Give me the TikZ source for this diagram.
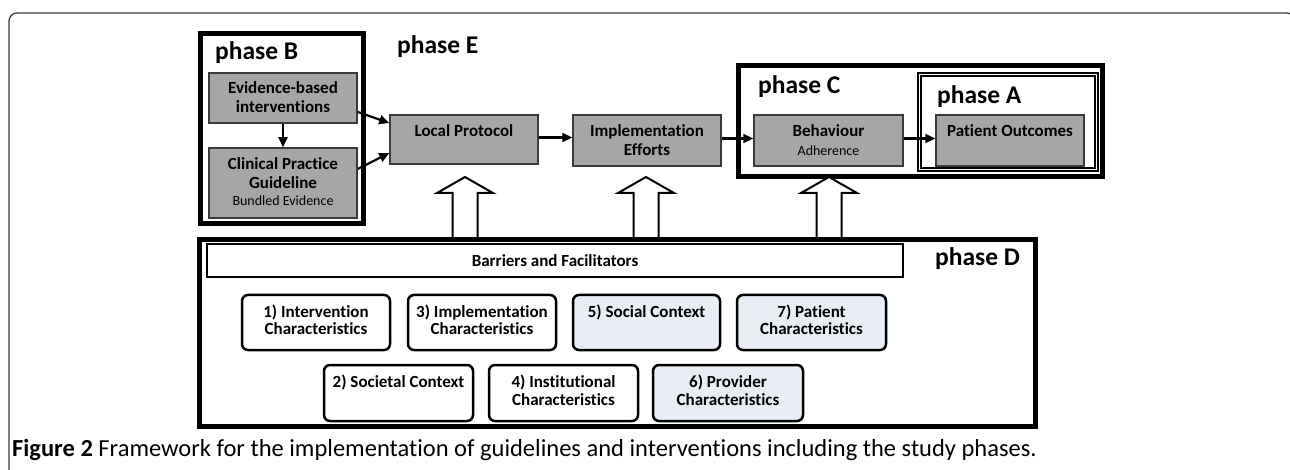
\documentclass[tikz,border=0pt]{standalone}
\usepackage{fontspec}
\setmainfont{Carlito}[Ligatures=NoCommon]
\usetikzlibrary{arrows.meta}
\definecolor{boxgray}{HTML}{A6A6A6}
\definecolor{lightblue}{HTML}{E9EDF4}
\definecolor{edgegray}{HTML}{3A3A3A}
\newcommand{\tbox}[4]{\parbox[c][#2][t]{#1}{\centering\baselineskip=19pt\rule{0pt}{#3}#4}}
\tikzset{
  phasebox/.style={draw=black, line width=5pt},
  graybox/.style={draw=edgegray, line width=1.5pt, fill=boxgray, inner sep=0pt, font=\fontsize{17}{19}\selectfont\bfseries, text=black},
  factor/.style={draw=black, line width=2.5pt, rounded corners=6pt, inner sep=0pt, font=\fontsize{17}{19}\selectfont\bfseries},
  lb/.style={fill=lightblue},
  phaselabel/.style={font=\fontsize{25.5}{28}\selectfont\bfseries, inner sep=0pt},
  flow/.style={line width=2.2pt, -{Triangle[length=10pt,width=9pt]}},
  hollow/.style={draw=black, line width=2pt, fill=white, line join=miter}
}
\begin{document}
\begin{tikzpicture}[x=1pt,y=-1pt]
\useasboundingbox (0,0) rectangle (1290,470);
\clip (0,0) rectangle (1290,470);
% outer frame
\draw[edgegray, line width=1.3pt, rounded corners=8pt] (9,480) -- (9,13) -- (1295,13) -- (1295,480);

% phase boxes
\draw[phasebox] (200.5,33.5) rectangle (363.5,223.5);
\draw[phasebox] (738.5,65.5) rectangle (1102.5,176.5);
\draw[phasebox] (919.5,74.5) rectangle (1096.5,169.5);
\draw[white, line width=0.6pt] (919.5,74.5) rectangle (1096.5,169.5);
\draw[phasebox] (199.5,239.5) rectangle (1035.5,426.5);

% phase labels
\node[phaselabel, anchor=west] (pB) at (215,53) {phase B};
\node[phaselabel, anchor=west] (pE) at (397,47) {phase E};
\node[phaselabel, anchor=west] (pC) at (758,87) {phase C};
\node[phaselabel, anchor=west] (pA) at (937,97) {phase A};
\node[phaselabel, anchor=west] (pD) at (935,259) {phase D};

% gray boxes
\node[graybox] (ev) at (283,98) {\tbox{148pt}{50pt}{21pt}{Evidence-based\\interventions}};
\node[graybox] (cpg) at (283,183) {\tbox{148pt}{70pt}{22pt}{Clinical Practice\\Guideline\\[-2pt]{\mdseries\fontsize{14}{16}\selectfont Bundled Evidence}}};
\node[graybox] (lp) at (464,139.5) {\tbox{148pt}{49pt}{22pt}{Local Protocol}};
\node[graybox] (ie) at (647,140.5) {\tbox{148pt}{51pt}{22pt}{Implementation\\Efforts}};
\node[graybox] (bh) at (828.5,140.5) {\tbox{149pt}{51pt}{22pt}{Behaviour\\{\mdseries\fontsize{14}{16}\selectfont Adherence}}};
\node[graybox] (po) at (1010,140.5) {\tbox{148pt}{51pt}{22pt}{Patient Outcomes}};

% flow arrows
\draw[flow] (ev) -- (cpg);
\draw[flow] ([yshift=-14pt]ev.east) -- ([yshift=16.5pt]lp.west);
\draw[flow] ([yshift=14pt]cpg.east) -- ([yshift=-13.5pt]lp.west);
\draw[flow] ([yshift=2pt]lp.east) -- ([yshift=2pt]lp.east -| ie.west);
\draw[flow] ([yshift=2pt]ie.east) -- ([yshift=2pt]ie.east -| bh.west);
\draw[flow] ([yshift=2pt]bh.east) -- ([yshift=2pt]bh.east -| po.west);

% barriers and facilitators
\node[draw=black, line width=2pt, minimum width=696pt, minimum height=33pt, inner sep=0pt,
      font=\fontsize{17}{19}\selectfont\bfseries] (bf) at (555,260.5) {Barriers and Facilitators};

% hollow arrows
\foreach \cx in {465, 646, 829}{
  \draw[hollow] (\cx-12.5,237) -- (\cx-12.5,193) -- (\cx-28,193) -- (\cx,177) -- (\cx+28,193) -- (\cx+12.5,193) -- (\cx+12.5,237);
}

% factor boxes row 1
\node[factor] (f1) at (316,322.5) {\tbox{148pt}{55pt}{22pt}{1) Intervention\\[-1pt]Characteristics}};
\node[factor] (f3) at (482,322.5) {\tbox{148pt}{55pt}{22pt}{3) Implementation\\[-1pt]Characteristics}};
\node[factor, lb] (f5) at (646.5,322.5) {\tbox{147pt}{55pt}{22pt}{5) Social Context}};
\node[factor, lb] (f7) at (811.5,322.5) {\tbox{149pt}{55pt}{22pt}{7) Patient\\[-1pt]Characteristics}};
% row 2
\node[factor] (f2) at (398.5,393) {\tbox{149pt}{56pt}{22pt}{2) Societal Context}};
\node[factor] (f4) at (563.5,393) {\tbox{149pt}{56pt}{22pt}{4) Institutional\\[-1pt]Characteristics}};
\node[factor, lb] (f6) at (728,393) {\tbox{150pt}{56pt}{22pt}{6) Provider\\[-1pt]Characteristics}};

% caption
\node[anchor=base west, inner sep=0pt, font=\fontsize{24.5}{28}\selectfont] (cap) at (12,456)
  {\textbf{Figure 2} Framework for the implementation of guidelines and interventions including the study phases.};
\end{tikzpicture}
\end{document}
